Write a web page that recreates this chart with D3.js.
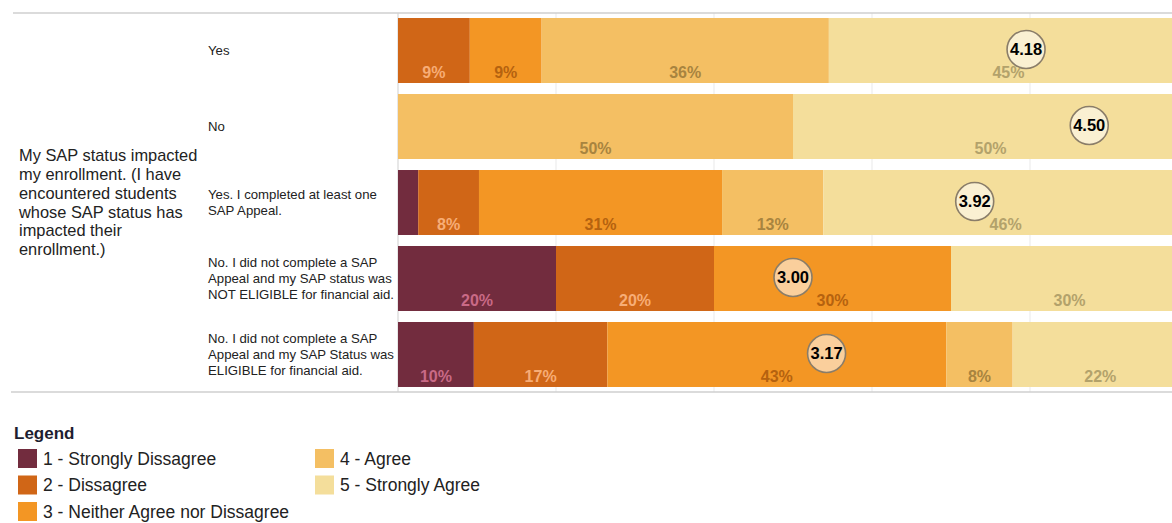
<!DOCTYPE html>
<html>
<head>
<meta charset="utf-8">
<script src="https://cdn.jsdelivr.net/npm/d3@7"></script>
<style>
  html, body { margin: 0; padding: 0; background: #fff; }
  svg { display: block; font-family: "Liberation Sans", Arial, sans-serif; }
</style>
</head>
<body>
<svg id="chart" width="1172" height="523"></svg>
<script>
// Survey question and its response groups
const question = ["My SAP status impacted", "my enrollment. (I have", "encountered students",
                  "whose SAP status has", "impacted their", "enrollment.)"];
const groups = [
  ["Yes"],
  ["No"],
  ["Yes. I completed at least one", "SAP Appeal."],
  ["No. I did not complete a SAP", "Appeal and my SAP status was", "NOT ELIGIBLE for financial aid."],
  ["No. I did not complete a SAP", "Appeal and my SAP Status was", "ELIGIBLE for financial aid."]
];

// Likert response levels
const levels = ["1 - Strongly Dissagree", "2 - Dissagree", "3 - Neither Agree nor Dissagree",
                "4 - Agree", "5 - Strongly Agree"];
const levelColors = ["#722c3e", "#d06617", "#f39624", "#f4bf63", "#f4de9b"];
const labelColors = ["#c96a86", "#f7ad76", "#b5620f", "#a8843f", "#b3a26b"];

// Share of responses (%) per level, one array per group
const shareYes        = [0, 9.09, 9.09, 36.36, 45.45];
const shareNo         = [0, 0, 0, 50, 50];
const shareAppealed   = [2.56, 7.69, 30.77, 12.82, 46.15];
const shareNotElig    = [20, 20, 30, 0, 30];
const shareElig       = [9.6, 16.9, 42.9, 8.4, 22.2];
const shares = [shareYes, shareNo, shareAppealed, shareNotElig, shareElig];

// Mean score per group (1-5 scale)
const means = [4.18, 4.50, 3.92, 3.00, 3.17];

const gridTicks = [0, 20, 40, 60, 80, 100];

const svg = d3.select("#chart");
const plotLeft = 398, plotRight = 1188, plotTop = 13, plotBottom = 392;

const x = d3.scaleLinear().domain([0, 100]).range([plotLeft, plotRight]);
const xMean = d3.scaleLinear().domain([1, 5]).range([plotLeft, plotRight]);
const y = d3.scaleBand().domain(d3.range(groups.length))
  .range([plotTop, plotBottom]).paddingInner(0.145).paddingOuter(0.066);

// Gridlines
svg.append("g").selectAll("line").data(gridTicks.slice(1)).join("line")
  .attr("x1", d => x(d)).attr("x2", d => x(d))
  .attr("y1", plotTop).attr("y2", plotBottom)
  .attr("stroke", "#e9e9e9").attr("stroke-width", 1);

// Frame lines
svg.append("line").attr("x1", 13).attr("x2", 1172).attr("y1", plotTop).attr("y2", plotTop)
  .attr("stroke", "#cfcfcf").attr("stroke-width", 1.5);
svg.append("line").attr("x1", 11).attr("x2", 1172).attr("y1", plotBottom).attr("y2", plotBottom)
  .attr("stroke", "#cfcfcf").attr("stroke-width", 1.5);
svg.append("line").attr("x1", plotLeft).attr("x2", plotLeft).attr("y1", plotTop).attr("y2", plotBottom)
  .attr("stroke", "#cfcfcf").attr("stroke-width", 1);

// Stacked segments
const segs = [];
shares.forEach((row, gi) => {
  let acc = 0;
  row.forEach((v, li) => {
    segs.push({ gi, li, v, x0: acc, x1: acc + v });
    acc += v;
  });
});

const segG = svg.append("g");
segG.selectAll("rect").data(segs.filter(d => d.v > 0)).join("rect")
  .attr("x", d => x(d.x0))
  .attr("width", d => x(d.x1) - x(d.x0))
  .attr("y", d => y(d.gi))
  .attr("height", y.bandwidth())
  .attr("fill", d => levelColors[d.li]);

segG.selectAll("text").data(segs.filter(d => x(d.x1) - x(d.x0) > 28)).join("text")
  .attr("x", d => x((d.x0 + d.x1) / 2))
  .attr("y", d => y(d.gi) + y.bandwidth() - 5)
  .attr("text-anchor", "middle")
  .attr("font-size", 16).attr("font-weight", "bold")
  .attr("fill", d => labelColors[d.li])
  .text(d => Math.round(d.v) + "%");

// Mean markers
const meanG = svg.append("g").selectAll("g").data(means).join("g")
  .attr("transform", (d, i) => `translate(${xMean(d)},${y(i) + y.bandwidth() / 2 - 1})`);
meanG.append("circle").attr("r", 19)
  .attr("fill", "rgba(255,255,255,0.55)")
  .attr("stroke", "#8a7d69").attr("stroke-width", 1.6);
meanG.append("text").attr("text-anchor", "middle").attr("dy", "0.36em")
  .attr("font-size", 16.5).attr("font-weight", "bold").attr("fill", "#000")
  .text(d => d3.format(".2f")(d));

// Group labels
const lineH = 16;
svg.append("g").selectAll("text").data(groups).join("text")
  .attr("font-size", 13.2).attr("fill", "#222")
  .each(function (lines, i) {
    const cy = y(i) + y.bandwidth() / 2;
    const startY = cy - (lines.length - 1) * lineH / 2;
    d3.select(this).selectAll("tspan").data(lines).join("tspan")
      .attr("x", 208)
      .attr("y", (t, k) => startY + k * lineH)
      .attr("dy", "0.35em")
      .text(t => t);
  });

// Question label
const qLineH = 18.8;
const qCenter = (plotTop + plotBottom) / 2;
svg.append("text").attr("font-size", 16.4).attr("fill", "#222")
  .selectAll("tspan").data(question).join("tspan")
  .attr("x", 19)
  .attr("y", (t, k) => qCenter - (question.length - 1) * qLineH / 2 + k * qLineH)
  .attr("dy", "0.35em")
  .text(t => t);

// Legend
const legend = svg.append("g");
legend.append("text").attr("x", 14).attr("y", 439)
  .attr("font-size", 17).attr("font-weight", "bold").attr("fill", "#1e1e30")
  .text("Legend");
const legendPos = levels.map((l, i) => ({
  label: l, color: levelColors[i],
  x: i < 3 ? 18 : 315,
  y: 449 + (i < 3 ? i : i - 3) * 26.5
}));
const li = legend.selectAll("g.item").data(legendPos).join("g").attr("class", "item")
  .attr("transform", d => `translate(${d.x},${d.y})`);
li.append("rect").attr("width", 19).attr("height", 19).attr("fill", d => d.color);
li.append("text").attr("x", 25).attr("y", 9.5).attr("dy", "0.36em")
  .attr("font-size", 17.5).attr("fill", "#222").text(d => d.label);
</script>
</body>
</html>
